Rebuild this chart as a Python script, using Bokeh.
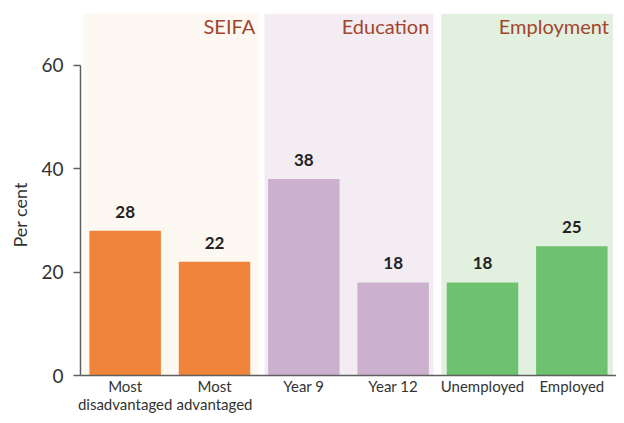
from bokeh.plotting import figure
from bokeh.models import FactorRange, Range1d, FixedTicker, ColumnDataSource, Title
from bokeh.core.properties import value
from bokeh.embed import file_html
from bokeh.resources import INLINE

# ---- data ----
categories = ["Most\ndisadvantaged", "Most\nadvantaged", "Year 9", "Year 12", "Unemployed", "Employed"]
values = [28, 22, 38, 18, 18, 25]
groups = ["SEIFA", "Education", "Employment"]
group_first = ["Most\ndisadvantaged", "Year 9", "Unemployed"]
group_last = ["Most\nadvantaged", "Year 12", "Employed"]
y_ticks = [0, 20, 40, 60]
y_title = "Per cent"

# ---- styles ----
bar_colors = ["#f0843b", "#f0843b", "#ccb1cf", "#ccb1cf", "#6ec26f", "#6ec26f"]
band_colors = ["#fdf8f2", "#f3ecf3", "#e2f0df"]
band_left_off = [-0.47, -0.44, -0.46]
band_right_off = [0.5, 0.45, 0.46]
FONT = "Lato"
AXIS_COLOR = "#5f5f5f"
LABEL_COLOR = "#333333"

p = figure(
    x_range=FactorRange(factors=categories, range_padding=0),
    y_range=Range1d(0, 70),
    width=616, height=415,
    output_backend="svg", toolbar_location=None,
    min_border_left=80, min_border_right=0, min_border_top=13, min_border_bottom=40,
)
p.outline_line_color = None
p.xgrid.visible = False
p.ygrid.visible = False
p.background_fill_color = "white"
p.border_fill_color = "white"

band_src = ColumnDataSource(dict(
    left=[(c, o) for c, o in zip(group_first, band_left_off)],
    right=[(c, o) for c, o in zip(group_last, band_right_off)],
    color=band_colors,
    label=groups,
))
p.quad(left="left", right="right", bottom=0, top=70, fill_color="color",
       line_color=None, source=band_src)

p.text(x="right", y=70, text="label", source=band_src,
       text_font=value(FONT), text_font_size="20px", text_color="#a2452d",
       text_align="right", text_baseline="middle", x_offset=-4, y_offset=12)

bar_src = ColumnDataSource(dict(x=categories, top=values, color=bar_colors,
                                lab=[str(v) for v in values]))
p.vbar(x="x", top="top", width=0.8, fill_color="color", line_color=None, source=bar_src)
p.text(x="x", y="top", text="lab", source=bar_src,
       text_font=value(FONT), text_font_size="17px", text_font_style="bold",
       text_color="#222222", text_align="center", text_baseline="middle", y_offset=-19)

# y title on the left, starting at a fixed distance above the frame bottom
p.add_layout(Title(text=y_title, align="left", offset=128, standoff=14,
                   vertical_align="middle",
                   text_font=FONT, text_font_size="18px", text_font_style="normal",
                   text_color=LABEL_COLOR), "left")

# y axis
ya = p.yaxis[0]
ya.bounds = (0, 60)
ya.ticker = FixedTicker(ticks=y_ticks)
ya.minor_tick_line_color = None
ya.major_tick_in = 0
ya.major_tick_out = 7
ya.major_tick_line_color = AXIS_COLOR
ya.major_tick_line_width = 1.5
ya.axis_line_color = AXIS_COLOR
ya.axis_line_width = 1.5
ya.major_label_text_font = FONT
ya.major_label_text_font_size = "19px"
ya.major_label_text_color = LABEL_COLOR
ya.major_label_standoff = 10

# x axis
xa = p.xaxis[0]
xa.major_tick_line_color = None
xa.minor_tick_line_color = None
xa.axis_line_color = AXIS_COLOR
xa.axis_line_width = 1.5
xa.major_label_text_font = FONT
xa.major_label_text_font_size = "15px"
xa.major_label_text_color = LABEL_COLOR
xa.major_label_text_line_height = 1.0
xa.major_label_standoff = -5

open("out.html", "w").write(file_html(p, INLINE))
